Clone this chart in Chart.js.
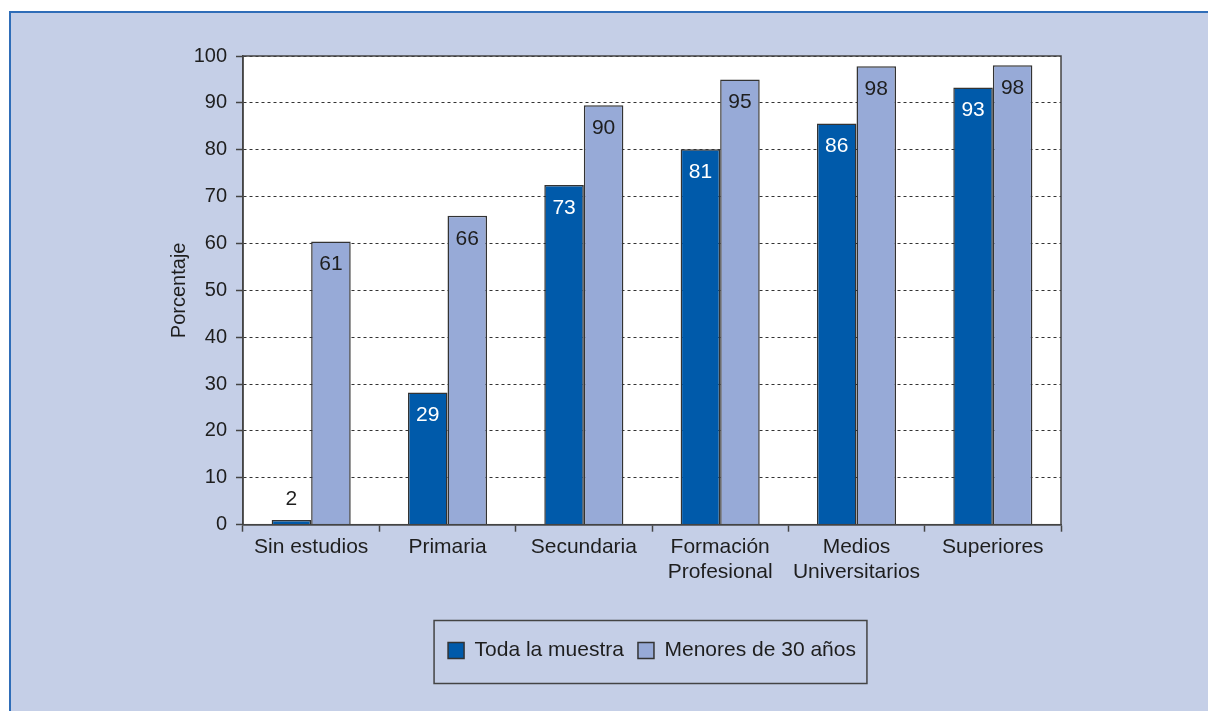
<!DOCTYPE html>
<html lang="es">
<head>
    <meta charset="UTF-8">
    <title>Porcentaje por nivel de estudios</title>
    <script src="https://cdn.jsdelivr.net/npm/chart.js"></script>
    <style>
        body { margin: 0; background: #ffffff; overflow: hidden; }
        #frame {
            position: absolute; left: 9px; top: 11px; width: 1300px; height: 800px;
            background: #c5cfe7; border-left: 2px solid #2f6db8; border-top: 2px solid #2f6db8;
        }
        #wrap { position: absolute; left: 0; top: 0; width: 1208px; height: 711px; }
    </style>
</head>
<body>
    <div id="frame"></div>
    <div id="wrap"><canvas id="estudiosChart" width="1208" height="711"></canvas></div>
    <script>
        // Data
        const categorias = ['Sin estudios', 'Primaria', 'Secundaria', ['Formación', 'Profesional'], ['Medios', 'Universitarios'], 'Superiores'];
        const todaMuestra = [1, 28.2, 72.5, 80.1, 85.6, 93.3];
        const menores30 = [60.4, 65.9, 89.5, 95.0, 97.8, 98.0];
        const etiquetasToda = [2, 29, 73, 81, 86, 93];
        const etiquetasMenores = [61, 66, 90, 95, 98, 98];
        const yTicks = [0, 10, 20, 30, 40, 50, 60, 70, 80, 90, 100];

        const FONT = "'Liberation Sans', Arial, sans-serif";
        const TEXT = '#1e1e1e';
        const LINE = '#444444';

        // White plot area and frame round it
        const plotArea = {
            id: 'plotArea',
            beforeDraw: (chart) => {
                const a = chart.chartArea;
                chart.ctx.save();
                chart.ctx.fillStyle = '#ffffff';
                chart.ctx.fillRect(a.left, a.top, a.right - a.left, a.bottom - a.top);
                chart.ctx.restore();
            },
            afterDraw: (chart) => {
                const a = chart.chartArea;
                const ctx = chart.ctx;
                ctx.save();
                ctx.strokeStyle = LINE;
                ctx.lineWidth = 1.5;
                ctx.strokeRect(a.left, a.top, a.right - a.left, a.bottom - a.top);
                ctx.restore();
            }
        };

        // Value labels on the bars
        const valueLabels = {
            id: 'valueLabels',
            afterDatasetsDraw: (chart) => {
                const ctx = chart.ctx;
                const sets = [etiquetasToda, etiquetasMenores];
                ctx.save();
                ctx.font = '21px ' + FONT;
                ctx.textAlign = 'center';
                ctx.textBaseline = 'middle';
                sets.forEach((labels, d) => {
                    chart.getDatasetMeta(d).data.forEach((bar, i) => {
                        const h = bar.base - bar.y;
                        if (h < 30) {
                            ctx.fillStyle = TEXT;
                            ctx.fillText(labels[i], bar.x, bar.y - 21);
                        } else {
                            ctx.fillStyle = d === 0 ? '#ffffff' : TEXT;
                            ctx.fillText(labels[i], bar.x, bar.y + 23);
                        }
                    });
                });
                ctx.restore();
            }
        };

        // Box round the legend
        const legendBox = {
            id: 'legendBox',
            afterDraw: (chart) => {
                const lg = chart.legend;
                if (!lg || !lg.legendHitBoxes.length) return;
                const hb = lg.legendHitBoxes;
                const last = hb[hb.length - 1];
                const cy = hb[0].top + hb[0].height / 2;
                const left = hb[0].left - 14;
                const right = last.left + last.width + 11;
                const ctx = chart.ctx;
                ctx.save();
                ctx.strokeStyle = LINE;
                ctx.lineWidth = 1.5;
                ctx.strokeRect(left, cy - 30, right - left, 63);
                ctx.restore();
            }
        };

        const ctx = document.getElementById('estudiosChart').getContext('2d');
        const chart = new Chart(ctx, {
            type: 'bar',
            data: {
                labels: categorias,
                datasets: [
                    {
                        label: 'Toda la muestra',
                        data: todaMuestra,
                        backgroundColor: '#005aaa',
                        borderColor: '#333333',
                        borderWidth: 1.5,
                        barPercentage: 1.0,
                        categoryPercentage: 0.58
                    },
                    {
                        label: 'Menores de 30 años',
                        data: menores30,
                        backgroundColor: '#97aad7',
                        borderColor: '#333333',
                        borderWidth: 1.5,
                        barPercentage: 1.0,
                        categoryPercentage: 0.58
                    }
                ]
            },
            options: {
                responsive: false,
                animation: false,
                layout: { padding: { left: 163, right: 147, top: 56, bottom: 40 } },
                scales: {
                    x: {
                        grid: {
                            offset: true,
                            drawOnChartArea: false,
                            drawTicks: true,
                            tickLength: 7,
                            tickColor: LINE,
                            tickWidth: 1.5
                        },
                        border: { color: LINE, width: 1.5 },
                        ticks: {
                            color: TEXT,
                            font: { family: FONT, size: 21, lineHeight: 1.2 },
                            maxRotation: 0,
                            autoSkip: false,
                            padding: 3
                        },
                        afterFit: (scale) => { scale.height = 101.3; }
                    },
                    y: {
                        min: 0,
                        max: 100,
                        afterBuildTicks: (scale) => { scale.ticks = yTicks.map(v => ({ value: v })); },
                        grid: {
                            color: '#333333',
                            lineWidth: 1,
                            tickLength: 7,
                            tickColor: LINE,
                            tickWidth: 1.5,
                            tickBorderDash: []
                        },
                        border: { color: LINE, width: 1.5, dash: [3, 3] },
                        ticks: {
                            color: TEXT,
                            font: { family: FONT, size: 20 },
                            padding: 9
                        },
                        title: {
                            display: true,
                            text: 'Porcentaje',
                            color: TEXT,
                            font: { family: FONT, size: 20 },
                            padding: { top: 4, bottom: 4 }
                        },
                        afterFit: (scale) => { scale.width = 80; }
                    }
                },
                plugins: {
                    legend: {
                        display: true,
                        position: 'bottom',
                        fullSize: false,
                        labels: {
                            color: TEXT,
                            font: { family: FONT, size: 21 },
                            boxWidth: 16,
                            boxHeight: 16,
                            padding: 14,
                            useBorderRadius: false
                        }
                    },
                    tooltip: { enabled: false }
                }
            },
            plugins: [plotArea, valueLabels, legendBox]
        });
    </script>
</body>
</html>
